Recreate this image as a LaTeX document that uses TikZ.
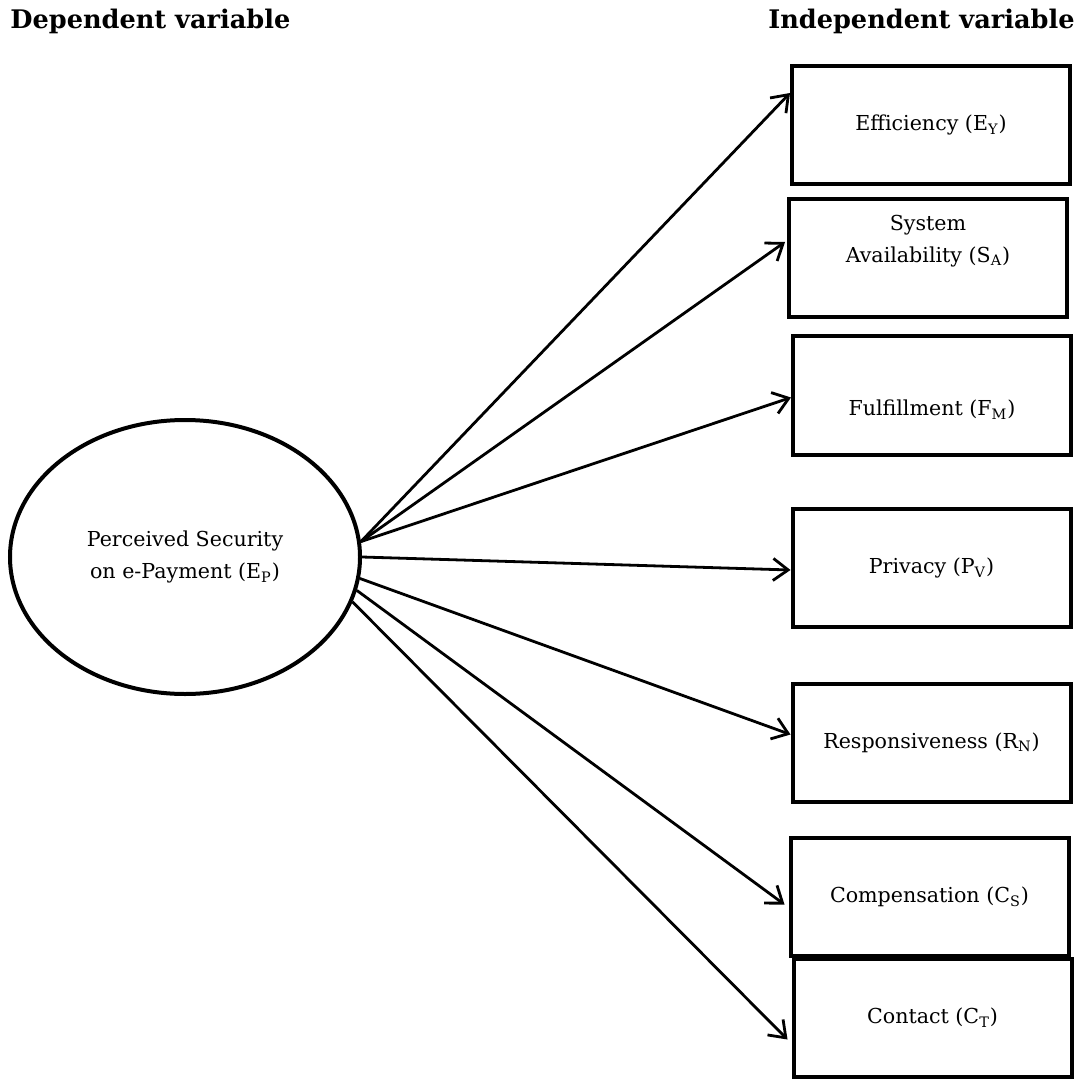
\documentclass[tikz,border=0pt]{standalone}
\usepackage{fontspec}
\setmainfont{DejaVu Serif}
\usetikzlibrary{arrows.meta,positioning,shapes.geometric}

\begin{document}
\begin{tikzpicture}[
    x=0.5pt,y=-0.5pt,
    every node/.style={font=\fontsize{10.3}{16}\selectfont},
    head/.style={font=\fontsize{12.8}{15}\selectfont\bfseries,inner sep=0pt},
    varbox/.style={draw,line width=2pt,minimum width=139pt,minimum height=59pt,inner sep=0pt,align=center},
    dep/.style={draw,ellipse,line width=2pt,minimum width=175pt,minimum height=137pt,inner sep=0pt,align=center},
    arr/.style={-{Straight Barb[length=7.5pt,width=11pt]},line width=1.4pt}
  ]
    \useasboundingbox (0,0) rectangle (1079,1079);
    % headings
    \node[head,anchor=base west] (dephead) at (10,29) {Dependent variable};
    \node[head,anchor=base east] (indhead) at (1075,29) {Independent variable};
    % dependent variable
    \node[dep] (ep) at (185,557) {Perceived Security\\on e-Payment (E\textsubscript{P})};
    % independent variables
    \node[varbox] (ey) at (931,125) {Efficiency (E\textsubscript{Y})};
    \node[varbox] (sa) at (928,258) {};
    \node[align=center] (satext) at ([yshift=8.5pt]sa.center) {System\\Availability (S\textsubscript{A})};
    \node[varbox] (fm) at (932,395.5) {};
    \node (fmtext) at ([yshift=-7pt]fm.center) {Fulfillment (F\textsubscript{M})};
    \node[varbox] (pv) at (931.5,568) {Privacy (P\textsubscript{V})};
    \node[varbox] (rn) at (931.5,742.5) {Responsiveness (R\textsubscript{N})};
    \node[varbox] (cs) at (929.5,896.5) {Compensation (C\textsubscript{S})};
    \node[varbox] (ct) at (932.5,1017.5) {Contact (C\textsubscript{T})};
    % paths
    \draw[arr] (ep.5.6) -- ([yshift=16pt]ey.west);
    \draw[arr] (ep.5.6) -- ([yshift=8pt,xshift=-1pt]sa.west);
    \draw[arr] (ep.5.6) -- ([yshift=-1pt]fm.west);
    \draw[arr] (ep.-0.6) -- ([yshift=-1pt]pv.west);
    \draw[arr] (ep.-7.6) -- ([yshift=4pt]rn.west);
    \draw[arr] (ep.-11) -- ([yshift=-4pt,xshift=-2pt]cs.west);
    \draw[arr] (ep.-15.6) -- ([yshift=-11pt,xshift=-2pt]ct.west);
  \end{tikzpicture}
\end{document}
